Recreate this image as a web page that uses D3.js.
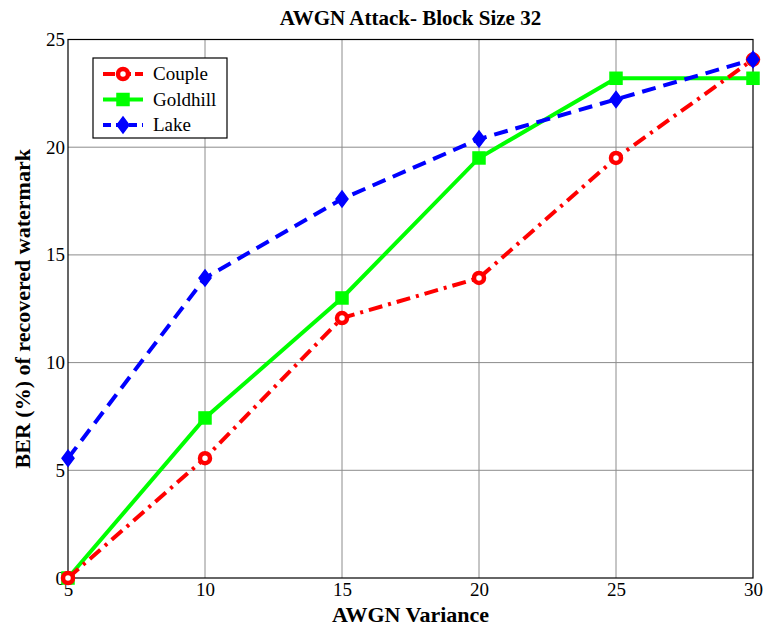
<!DOCTYPE html>
<html>
<head>
<meta charset="utf-8">
<script src="https://cdn.jsdelivr.net/npm/d3@7"></script>
<style>
  body { margin: 0; background: #fff; }
  svg text { font-family: "Liberation Serif", "DejaVu Serif", serif; }
</style>
</head>
<body>
<svg id="chart"></svg>
<script>
const variance = [5, 10, 15, 20, 25, 30];
const couple   = [0, 5.56, 12.07, 13.93, 19.5, 24.07];
const goldhill = [0, 7.43, 13.0, 19.5, 23.2, 23.2];
const lake     = [5.56, 13.93, 17.6, 20.38, 22.22, 24.07];
const xTicks = [5, 10, 15, 20, 25, 30];
const yTicks = [0, 5, 10, 15, 20, 25];

const series = [
    {name: 'Couple',   values: couple,   color: '#ff0000', dash: '14,6,3,6', marker: 'circle'},
    {name: 'Goldhill', values: goldhill, color: '#00ff00', dash: null,       marker: 'square'},
    {name: 'Lake',     values: lake,     color: '#0000ff', dash: '14,8',     marker: 'diamond'}
];

const serif = '"Liberation Serif", "DejaVu Serif", serif';
const width = 767, height = 630;
const margin = {top: 39.5, right: 14, bottom: 52, left: 68};
const iw = width - margin.left - margin.right;
const ih = height - margin.top - margin.bottom;

const svg = d3.select('#chart').attr('width', width).attr('height', height);
const chart = svg.append('g').attr('transform', `translate(${margin.left},${margin.top})`);

const xscale = d3.scaleLinear().domain([5, 30]).range([0, iw]);
const yscale = d3.scaleLinear().domain([0, 25]).range([ih, 0]);

// grid
chart.append('g').selectAll('line').data(xTicks.slice(1, -1)).join('line')
    .attr('x1', d => xscale(d)).attr('x2', d => xscale(d))
    .attr('y1', 0).attr('y2', ih)
    .attr('stroke', '#8c8c8c').attr('stroke-width', 1);
chart.append('g').selectAll('line').data(yTicks.slice(1, -1)).join('line')
    .attr('y1', d => yscale(d)).attr('y2', d => yscale(d))
    .attr('x1', 0).attr('x2', iw)
    .attr('stroke', '#8c8c8c').attr('stroke-width', 1);

// axes
const xaxis = d3.axisBottom(xscale).tickValues(xTicks).tickSize(0).tickPadding(5);
const yaxis = d3.axisLeft(yscale).tickValues(yTicks).tickSize(0).tickPadding(3);
const xg = chart.append('g').attr('transform', `translate(0,${ih})`).call(xaxis);
const yg = chart.append('g').call(yaxis);
[xg, yg].forEach(g => {
    g.attr('font-family', serif);
    g.select('.domain').remove();
    g.selectAll('text').attr('font-size', 19).attr('fill', '#000');
});

chart.append('rect').attr('width', iw).attr('height', ih)
    .attr('fill', 'none').attr('stroke', '#000').attr('stroke-width', 1.2);

// lines
const line = d3.line().x((d, i) => xscale(variance[i])).y(d => yscale(d));

function drawMarker(g, type, color, x, y) {
    if (type === 'circle') {
        g.append('circle').attr('cx', x).attr('cy', y).attr('r', 5)
            .attr('fill', '#fff').attr('stroke', color).attr('stroke-width', 4.5);
    } else if (type === 'square') {
        g.append('rect').attr('x', x - 6).attr('y', y - 6).attr('width', 12).attr('height', 12)
            .attr('fill', color).attr('stroke', color).attr('stroke-width', 1.5);
    } else {
        g.append('path').attr('d', `M${x},${y - 8}L${x + 6},${y}L${x},${y + 8}L${x - 6},${y}Z`)
            .attr('fill', color).attr('stroke', color).attr('stroke-width', 1.5);
    }
}

const drawOrder = [series[1], series[0], series[2]];
drawOrder.forEach(s => {
    const g = chart.append('g');
    g.append('path').datum(s.values).attr('d', line)
        .attr('fill', 'none').attr('stroke', s.color).attr('stroke-width', 4)
        .attr('stroke-dasharray', s.dash);
    s.values.forEach((v, i) => drawMarker(g, s.marker, s.color, xscale(variance[i]), yscale(v)));
});

// title and labels
svg.append('text').attr('x', margin.left + iw / 2).attr('y', 25)
    .attr('font-family', serif)
    .attr('text-anchor', 'middle').attr('font-size', 21).attr('font-weight', 'bold')
    .text('AWGN Attack- Block Size 32');
svg.append('text').attr('x', margin.left + iw / 2).attr('y', 622)
    .attr('font-family', serif)
    .attr('text-anchor', 'middle').attr('font-size', 22).attr('font-weight', 'bold')
    .text('AWGN Variance');
svg.append('text').attr('transform', `translate(30,${margin.top + ih / 2}) rotate(-90)`)
    .attr('font-family', serif)
    .attr('text-anchor', 'middle').attr('font-size', 22).attr('font-weight', 'bold')
    .text('BER (%) of recovered watermark');

// legend
const legend = svg.append('g').attr('transform', 'translate(93,58)');
legend.append('rect').attr('width', 134).attr('height', 80)
    .attr('fill', '#fff').attr('stroke', '#000').attr('stroke-width', 1.2);
series.forEach((s, i) => {
    const y = 16 + i * 25.5;
    const g = legend.append('g');
    g.append('line').attr('x1', 10).attr('x2', 50).attr('y1', y).attr('y2', y)
        .attr('stroke', s.color).attr('stroke-width', 4)
        .attr('stroke-dasharray', s.dash ? (s.name === 'Couple' ? '12,4' : '8,5') : null);
    drawMarker(g, s.marker, s.color, 30, y);
    g.append('text').attr('x', 60).attr('y', y + 6)
        .attr('font-family', serif).attr('font-size', 19).text(s.name);
});
</script>
</body>
</html>
